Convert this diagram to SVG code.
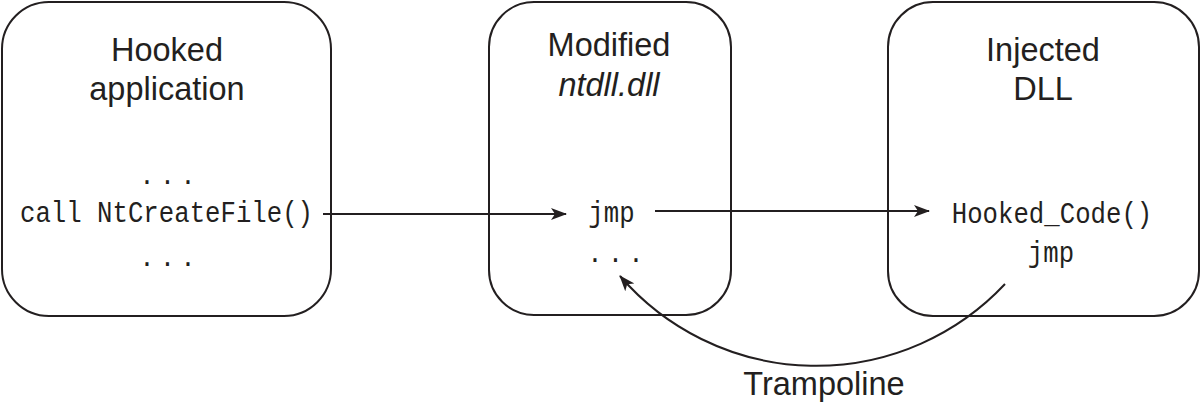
<svg xmlns="http://www.w3.org/2000/svg" width="1202" height="405" viewBox="0 0 1202 405">
<style>
.box{fill:none;stroke:#231f20;stroke-width:2}
.hd{font-family:"Liberation Sans",Arial,sans-serif;font-size:32.5px;fill:#231f20;text-anchor:middle}
.code{font-family:"Liberation Mono","DejaVu Sans Mono",monospace;font-size:25.7px;fill:#231f20;text-anchor:middle}
.dots{font-family:"Liberation Mono","DejaVu Sans Mono",monospace;font-size:25.7px;fill:#231f20;letter-spacing:5.1px}
.conn{fill:none;stroke:#231f20;stroke-width:2}
</style>
<defs>
<marker id="ah" markerUnits="userSpaceOnUse" markerWidth="17" markerHeight="13" refX="15" refY="6.5" orient="auto">
<path d="M0,0.5 L16,6.5 L0,12.5 L4,6.5 z" fill="#231f20"/>
</marker>
</defs>
<rect width="1202" height="405" fill="#ffffff"/>
<g id="hooked-application">
<rect class="box" x="2" y="2" width="329" height="314" rx="47" ry="47"/>
<text class="hd" x="167" y="61">Hooked</text>
<text class="hd" x="167" y="100">application</text>
<text class="dots" x="139.3" y="184">...</text>
<text class="code" transform="translate(166.5,222) scale(1,1.15)">call NtCreateFile()</text>
<text class="dots" x="139.3" y="266">...</text>
</g>
<g id="modified-ntdll">
<rect class="box" x="489" y="2" width="242" height="313" rx="45" ry="45"/>
<text class="hd" x="609" y="56">Modified</text>
<text class="hd" x="609" y="96" font-style="italic">ntdll.dll</text>
<text class="code" transform="translate(611.5,222) scale(1,1.15)">jmp</text>
<text class="dots" x="587.3" y="262">...</text>
</g>
<g id="injected-dll">
<rect class="box" x="888" y="2" width="311" height="314" rx="45" ry="45"/>
<text class="hd" x="1043" y="61">Injected</text>
<text class="hd" x="1043" y="100">DLL</text>
<text class="code" transform="translate(1052,223) scale(1,1.15)">Hooked_Code()</text>
<text class="code" transform="translate(1051,262) scale(1,1.15)">jmp</text>
</g>
<g id="connectors">
<path class="conn" d="M323,214 L566,214" marker-end="url(#ah)"/>
<path class="conn" d="M655,211 L929,211" marker-end="url(#ah)"/>
<path class="conn" d="M1005,284 A259,259 0 0 1 620,276" marker-end="url(#ah)"/>
<text class="hd" x="824" y="395">Trampoline</text>
</g>
</svg>
